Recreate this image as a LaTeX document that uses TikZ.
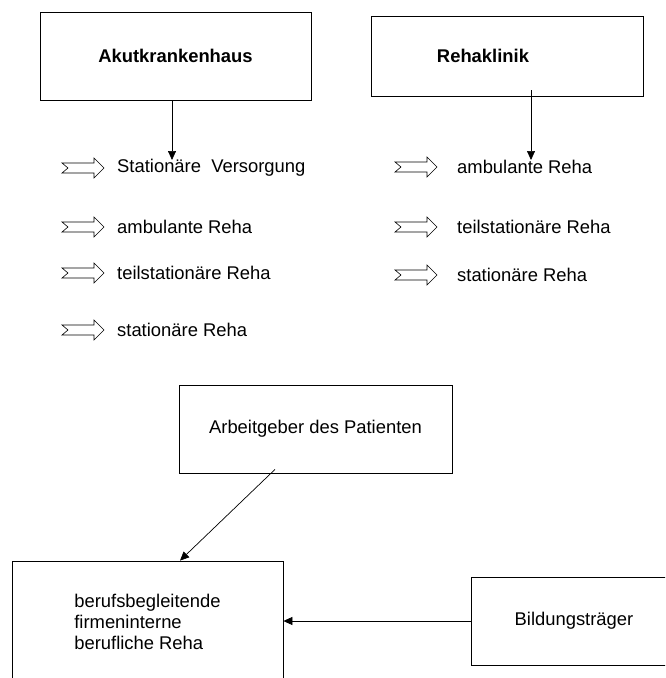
\documentclass[tikz,border=0pt]{standalone}
\usepackage{fontspec}
\setmainfont{Liberation Sans}
\usetikzlibrary{arrows.meta}
\tikzset{
  txt/.style={font=\fontsize{18.4}{21}\selectfont},
  boldtxt/.style={font=\fontsize{18.4}{21}\selectfont\bfseries},
  box/.style={draw, line width=0.8pt, inner sep=0pt, txt},
  item/.style={anchor=west, inner sep=0pt, txt},
  link/.style={line width=0.7pt, -{Triangle[length=9pt,width=8pt]}},
  blockarrow/.pic={
    \draw[line width=0.6pt] (0,-5) -- (32,-5) -- (32,-10) -- (42,0)
      -- (32,10) -- (32,5) -- (0,5) -- (6,0) -- cycle;
  }
}
\begin{document}
\begin{tikzpicture}[x=1pt,y=-1pt]
  \clip (0,0) rectangle (665,678);
  % Kliniken
  \node[box, minimum width=271pt, minimum height=88pt, boldtxt] (akut) at (175.5,56) {Akutkrankenhaus};
  \node[box, minimum width=272pt, minimum height=80pt,
        label={[xshift=-24pt, boldtxt]center:Rehaklinik}] (reha) at (507,56) {};
  \coordinate (akutend) at (172,160);
  \coordinate (rehaend) at (531,160);
  \draw[link] ([xshift=-3.5pt]akut.south) -- (akutend);
  \draw[link] ([xshift=24pt,yshift=6pt]reha.south) -- (rehaend);

  % Angebote Akutkrankenhaus
  \pic at (62,168) {blockarrow};
  \node[item] (akut1) at (117,168) {Stationäre\ \ Versorgung};
  \pic at (62,227) {blockarrow};
  \node[item] (akut2) at (117,227) {ambulante Reha};
  \pic at (62,273) {blockarrow};
  \node[item] (akut3) at (117,273) {teilstationäre Reha};
  \pic at (62,330) {blockarrow};
  \node[item] (akut4) at (117,330) {stationäre Reha};

  % Angebote Rehaklinik
  \pic at (395,167) {blockarrow};
  \node[item] (reha1) at (457,167) {ambulante Reha};
  \pic at (395,227) {blockarrow};
  \node[item] (reha2) at (457,227) {teilstationäre Reha};
  \pic at (395,275) {blockarrow};
  \node[item] (reha3) at (457,275) {stationäre Reha};

  % berufliche Reha
  \node[box, minimum width=273pt, minimum height=88pt] (arbeit) at (315.5,429) {Arbeitgeber des Patienten};
  \node[box, minimum width=271pt, minimum height=122pt, align=left] (berufs) at (147.5,622)
    {berufsbegleitende\\firmeninterne\\berufliche Reha};
  \node[box, minimum width=206pt, minimum height=88pt] (bild) at (574,621) {Bildungsträger};
  \draw[link] ([xshift=-40.5pt,yshift=4pt]arbeit.south) -- ([xshift=32.5pt]berufs.north);
  \draw[link] (bild.west) -- (bild.west -| berufs.east);
\end{tikzpicture}
\end{document}
